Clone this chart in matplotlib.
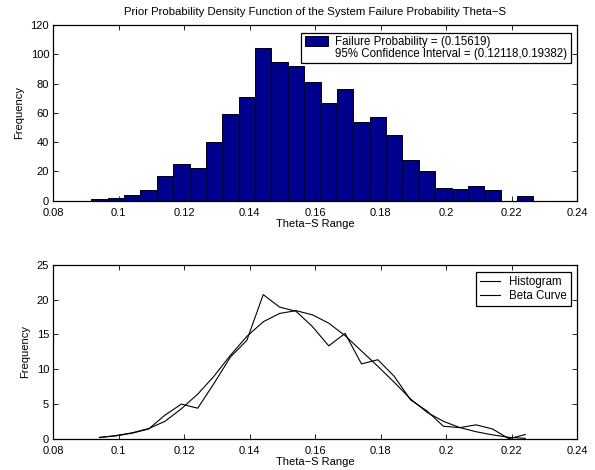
import numpy as np
import matplotlib
matplotlib.use("Agg")
import matplotlib.pyplot as plt
from matplotlib.lines import Line2D

plt.rcParams['font.family'] = ['Liberation Sans', 'DejaVu Sans']
plt.rcParams['font.size'] = 8

# ---- data ----
bin_lo = 0.0916
bin_hi = 0.2267
counts = [1, 2, 4, 7, 17, 25, 22, 40, 59, 71, 104, 95, 92, 81, 67, 76,
          54, 57, 45, 28, 20, 9, 8, 10, 7, 0, 3]
beta_vals = [0.15, 0.45, 0.85, 1.45, 2.5, 4.3, 6.4, 9.0, 12.0, 14.7, 16.8,
             18.0, 18.4, 17.8, 16.6, 14.8, 12.6, 10.4, 8.1, 5.7, 3.8, 2.5,
             1.6, 1.0, 0.55, 0.2, 0.05]
xticks = [0.08, 0.1, 0.12, 0.14, 0.16, 0.18, 0.2, 0.22, 0.24]
xticklabels = ['0.08', '0.1', '0.12', '0.14', '0.16', '0.18', '0.2', '0.22', '0.24']
yticks_top = [0, 20, 40, 60, 80, 100, 120]
yticks_bot = [0, 5, 10, 15, 20, 25]
title = "Prior Probability Density Function of the System Failure Probability Theta\u2212S"
legend_top = ["Failure Probability = (0.15619)",
              "95% Confidence Interval = (0.12118,0.19382)"]
legend_bot = ["Histogram", "Beta Curve"]

n_bins = len(counts)
edges = np.linspace(bin_lo, bin_hi, n_bins + 1)
width = edges[1] - edges[0]
centers = (edges[:-1] + edges[1:]) / 2
counts_arr = np.array(counts, dtype=float)
density = counts_arr / (counts_arr.sum() * width)

fig = plt.figure(figsize=(5.95, 4.7), dpi=100)
ax1 = fig.add_axes([0.0896, 0.573, 0.8801, 0.3738])
ax2 = fig.add_axes([0.0896, 0.0666, 0.8801, 0.3702])

for ax in (ax1, ax2):
    ax.tick_params(direction='in', length=3.5, width=0.6, top=True, right=True,
                   labelsize=8)
    ax.tick_params(axis='x', pad=5)
    ax.tick_params(axis='y', pad=3)
    for s in ax.spines.values():
        s.set_linewidth(0.9)
    ax.set_xlim(0.08, 0.24)
    ax.set_xticks(xticks)
    ax.set_xticklabels(xticklabels)

# top histogram
bars = ax1.bar(edges[:-1], counts, width=width, align='edge',
               color='#00008F', edgecolor='black', linewidth=0.7)
ax1.set_ylim(0, 120)
ax1.set_yticks(yticks_top)
ax1.set_title(title, fontsize=8.2, pad=7)
ax1.set_xlabel("Theta\u2212S Range", fontsize=8, labelpad=1)
ax1.set_ylabel("Frequency", fontsize=8, labelpad=4.5)
blank = Line2D([], [], linestyle='none', marker=None, alpha=0)
leg1 = ax1.legend([bars, blank], legend_top, loc='upper right',
                  bbox_to_anchor=(0.9925, 0.97), fontsize=8.3, fancybox=False,
                  framealpha=1, edgecolor='black', borderpad=0.3,
                  labelspacing=0.0, handlelength=2.0, handleheight=0.9,
                  handletextpad=0.65, borderaxespad=0.2)
leg1.get_frame().set_linewidth(0.9)

# bottom lines
ax2.plot(centers, density, color='black', linewidth=0.8, label=legend_bot[0])
ax2.plot(centers, beta_vals, color='black', linewidth=0.8, label=legend_bot[1])
ax2.set_ylim(0, 25)
ax2.set_yticks(yticks_bot)
ax2.set_xlabel("Theta\u2212S Range", fontsize=8, labelpad=1)
ax2.set_ylabel("Frequency", fontsize=8, labelpad=4.5)
leg2 = ax2.legend(loc='upper right', bbox_to_anchor=(0.9925, 0.97), fontsize=8.3,
                  fancybox=False, framealpha=1, edgecolor='black',
                  borderpad=0.35, labelspacing=0.15, handlelength=1.7,
                  handletextpad=0.8, borderaxespad=0.2)
leg2.get_frame().set_linewidth(0.9)

fig.savefig("out.png", dpi=100)
